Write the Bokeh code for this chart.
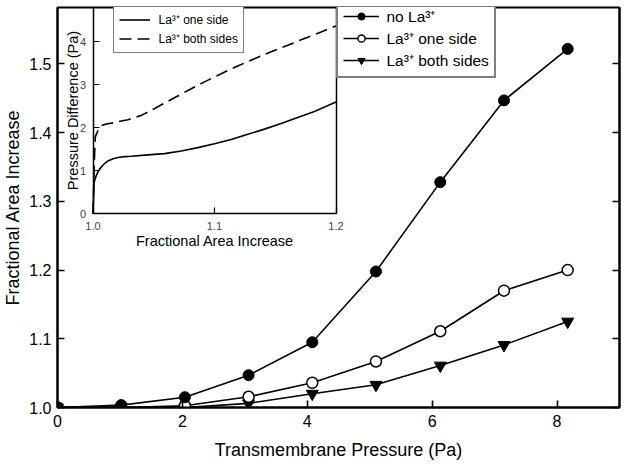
from bokeh.plotting import figure
from bokeh.models import (LinearAxis, FixedTicker, Legend, LegendItem, Range1d,
                          NumeralTickFormatter, CustomJSTickFormatter)
from bokeh.core.properties import value
from bokeh.embed import file_html
from bokeh.resources import INLINE

FONT = "Liberation Sans"

# ---------------- main chart data ----------------
pressure = [0, 1.02, 2.04, 3.06, 4.08, 5.10, 6.13, 7.15, 8.17]
no_la = [1.0, 1.0035, 1.015, 1.047, 1.095, 1.198, 1.328, 1.447, 1.522]
one_side = [1.0, 1.0, 1.0025, 1.0156, 1.036, 1.067, 1.111, 1.170, 1.200]
both_sides = [1.0, 1.0, 1.0, 1.006, 1.020, 1.033, 1.061, 1.091, 1.125]
x_ticks = [0, 2, 4, 6, 8]
y_ticks = [1.0, 1.1, 1.2, 1.3, 1.4, 1.5]

# ---------------- inset data ----------------
ins_x_one = [1.0, 1.0008, 1.0027, 1.0045, 1.0068, 1.0095, 1.0123, 1.0165, 1.0206,
             1.026, 1.0315, 1.0452, 1.0589, 1.0726, 1.0863, 1.10, 1.1137, 1.1274,
             1.1411, 1.1548, 1.1685, 1.1822, 1.2]
ins_y_one = [0, 0.72, 0.89, 1.0, 1.09, 1.17, 1.23, 1.28, 1.31,
             1.33, 1.34, 1.37, 1.40, 1.46, 1.54, 1.63, 1.73, 1.85,
             1.97, 2.10, 2.24, 2.38, 2.60]
ins_x_both = [1.0, 1.0012, 1.0019, 1.0041, 1.0068, 1.011, 1.0178, 1.0233, 1.0288,
              1.0397, 1.0507, 1.0644, 1.0781, 1.0918, 1.1055, 1.1192, 1.1329,
              1.1466, 1.1603, 1.1740, 1.1877, 1.2]
ins_y_both = [0, 1.3, 1.79, 1.94, 2.05, 2.09, 2.12, 2.16, 2.19,
              2.29, 2.45, 2.66, 2.87, 3.07, 3.26, 3.44, 3.61,
              3.77, 3.92, 4.08, 4.23, 4.37]
ins_x_range = (1.0, 1.2)
ins_y_range = (0.0, 4.8)
ins_x_ticks = [1.0, 1.1, 1.2]
ins_y_ticks = [0, 1, 2, 3, 4]

# ---------------- layout (pixels) ----------------
FRAME_W, FRAME_H = 562, 400
INSET_LEFT, INSET_W, INSET_H = 35.5, 243.0, 206.3   # inset box inside main frame

p = figure(frame_width=FRAME_W, frame_height=FRAME_H, x_range=Range1d(0, 9),
           y_range=Range1d(1.0, 1.5822), output_backend="svg",
           toolbar_location=None, title=None,
           min_border_left=52, min_border_right=4, min_border_top=7, min_border_bottom=0)
p.xgrid.visible = False
p.ygrid.visible = False
p.outline_line_color = "black"
p.outline_line_width = 2
p.background_fill_color = "white"
p.border_fill_color = "white"

# inset coordinate system mapped onto a sub-box of the main frame
dx = (ins_x_range[1] - ins_x_range[0]) / INSET_W
dy = (ins_y_range[1] - ins_y_range[0]) / INSET_H
ix0 = ins_x_range[0] - INSET_LEFT * dx
iy1 = ins_y_range[1]
p.extra_x_ranges = {"ix": Range1d(ix0, ix0 + FRAME_W * dx)}
p.extra_y_ranges = {"iy": Range1d(iy1 - FRAME_H * dy, iy1)}


def style_axis(ax, tick_size, lab_size, tick_len, lw, color="black"):
    ax.axis_line_width = lw
    ax.axis_line_color = "black"
    ax.major_tick_in = tick_len
    ax.major_tick_out = 0
    ax.major_tick_line_width = lw * 0.8
    ax.minor_tick_in = 0
    ax.minor_tick_out = 0
    ax.major_label_text_font = FONT
    ax.major_label_text_font_size = tick_size
    ax.major_label_text_color = color
    ax.axis_label_text_font = FONT
    ax.axis_label_text_font_size = lab_size
    ax.axis_label_text_font_style = "normal"
    ax.axis_label_text_color = "black"


xa = p.xaxis[0]
ya = p.yaxis[0]
style_axis(xa, "16px", "18px", 7, 2)
style_axis(ya, "16px", "18px", 7, 2)
xa.ticker = FixedTicker(ticks=x_ticks)
ya.ticker = FixedTicker(ticks=y_ticks)
ya.formatter = NumeralTickFormatter(format="0.0")
xa.axis_label = "Transmembrane Pressure (Pa)"
ya.axis_label = "Fractional Area Increase"
xa.major_label_standoff = 7
xa.axis_label_standoff = 10
ya.major_label_standoff = 6
ya.axis_label_standoff = 3

ra = LinearAxis(ticker=FixedTicker(ticks=y_ticks),
                formatter=CustomJSTickFormatter(code="return ''"))
style_axis(ra, "16px", "16px", 7, 2)
ra.major_label_standoff = 0
p.add_layout(ra, "right")

# ---------------- inset axes (fixed inside the main frame) ----------------
iax_l = LinearAxis(x_range_name="ix", y_range_name="iy", fixed_location=ins_x_range[0],
                   bounds=ins_y_range, ticker=FixedTicker(ticks=ins_y_ticks),
                   formatter=NumeralTickFormatter(format="0"),
                   axis_label="Pressure Difference (Pa)")
style_axis(iax_l, "11px", "14.5px", 6, 1.5, color="#444444")
iax_l.major_label_standoff = 7
iax_l.axis_label_standoff = -4
p.add_layout(iax_l, "left")

iax_b = LinearAxis(x_range_name="ix", y_range_name="iy", fixed_location=ins_y_range[0],
                   bounds=ins_x_range, ticker=FixedTicker(ticks=ins_x_ticks),
                   formatter=NumeralTickFormatter(format="0.0"),
                   axis_label="Fractional Area Increase")
style_axis(iax_b, "11px", "14.5px", 6, 1.5, color="#444444")
iax_b.major_label_standoff = 8
iax_b.axis_label_standoff = 0
p.add_layout(iax_b, "below")

iax_r = LinearAxis(x_range_name="ix", y_range_name="iy", fixed_location=ins_x_range[1],
                   bounds=ins_y_range, ticker=FixedTicker(ticks=[]))
style_axis(iax_r, "11px", "11px", 0, 1.5)
p.add_layout(iax_r, "left")

# ---------------- main series ----------------
lw = 1.6
l3 = p.line(pressure, both_sides, line_color="black", line_width=lw)
l2 = p.line(pressure, one_side, line_color="black", line_width=lw)
l1 = p.line(pressure, no_la, line_color="black", line_width=lw)
s3 = p.scatter(pressure, both_sides, marker="inverted_triangle", size=12,
               fill_color="black", line_color="black", line_width=1)
s2 = p.scatter(pressure, one_side, marker="circle", size=11,
               fill_color="white", line_color="black", line_width=1.5)
s1 = p.scatter(pressure, no_la, marker="circle", size=11,
               fill_color="black", line_color="black", line_width=1)

# ---------------- inset series ----------------
il1 = p.line(ins_x_one, ins_y_one, x_range_name="ix", y_range_name="iy",
             line_color="black", line_width=1.6)
il2 = p.line(ins_x_both, ins_y_both, x_range_name="ix", y_range_name="iy",
             line_color="black", line_width=1.6, line_dash="12 6")

# ---------------- legends ----------------
MAIN_LEG_H = 71
leg = Legend(items=[
    LegendItem(label=value("no La³⁺"), renderers=[l1, s1]),
    LegendItem(label=value("La³⁺ one side"), renderers=[l2, s2]),
    LegendItem(label=value("La³⁺ both sides"), renderers=[l3, s3]),
], location=(INSET_LEFT + INSET_W, FRAME_H - MAIN_LEG_H))
leg.margin = 0
leg.padding = 5
leg.spacing = 0
leg.glyph_width = 36
leg.glyph_height = 18
leg.label_height = 18
leg.label_standoff = 8
leg.label_text_font = FONT
leg.label_text_font_size = "15.5px"
leg.label_text_color = "black"
leg.border_line_color = "black"
leg.border_line_width = 2
leg.background_fill_color = "white"
leg.background_fill_alpha = 1
p.add_layout(leg)

INS_LEG_H = 46
ileg = Legend(items=[
    LegendItem(label=value("La³⁺ one side"), renderers=[il1]),
    LegendItem(label=value("La³⁺ both sides"), renderers=[il2]),
], location=(INSET_LEFT + 20, FRAME_H - INS_LEG_H))
ileg.margin = 0
ileg.padding = 5
ileg.spacing = 2
ileg.glyph_width = 31
ileg.glyph_height = 17
ileg.label_height = 17
ileg.label_standoff = 9
ileg.label_text_font = FONT
ileg.label_text_font_size = "12px"
ileg.label_text_color = "black"
ileg.border_line_color = "black"
ileg.border_line_width = 1.5
ileg.background_fill_color = "white"
ileg.background_fill_alpha = 1
p.add_layout(ileg)

open("out.html", "w").write(file_html(p, INLINE))
